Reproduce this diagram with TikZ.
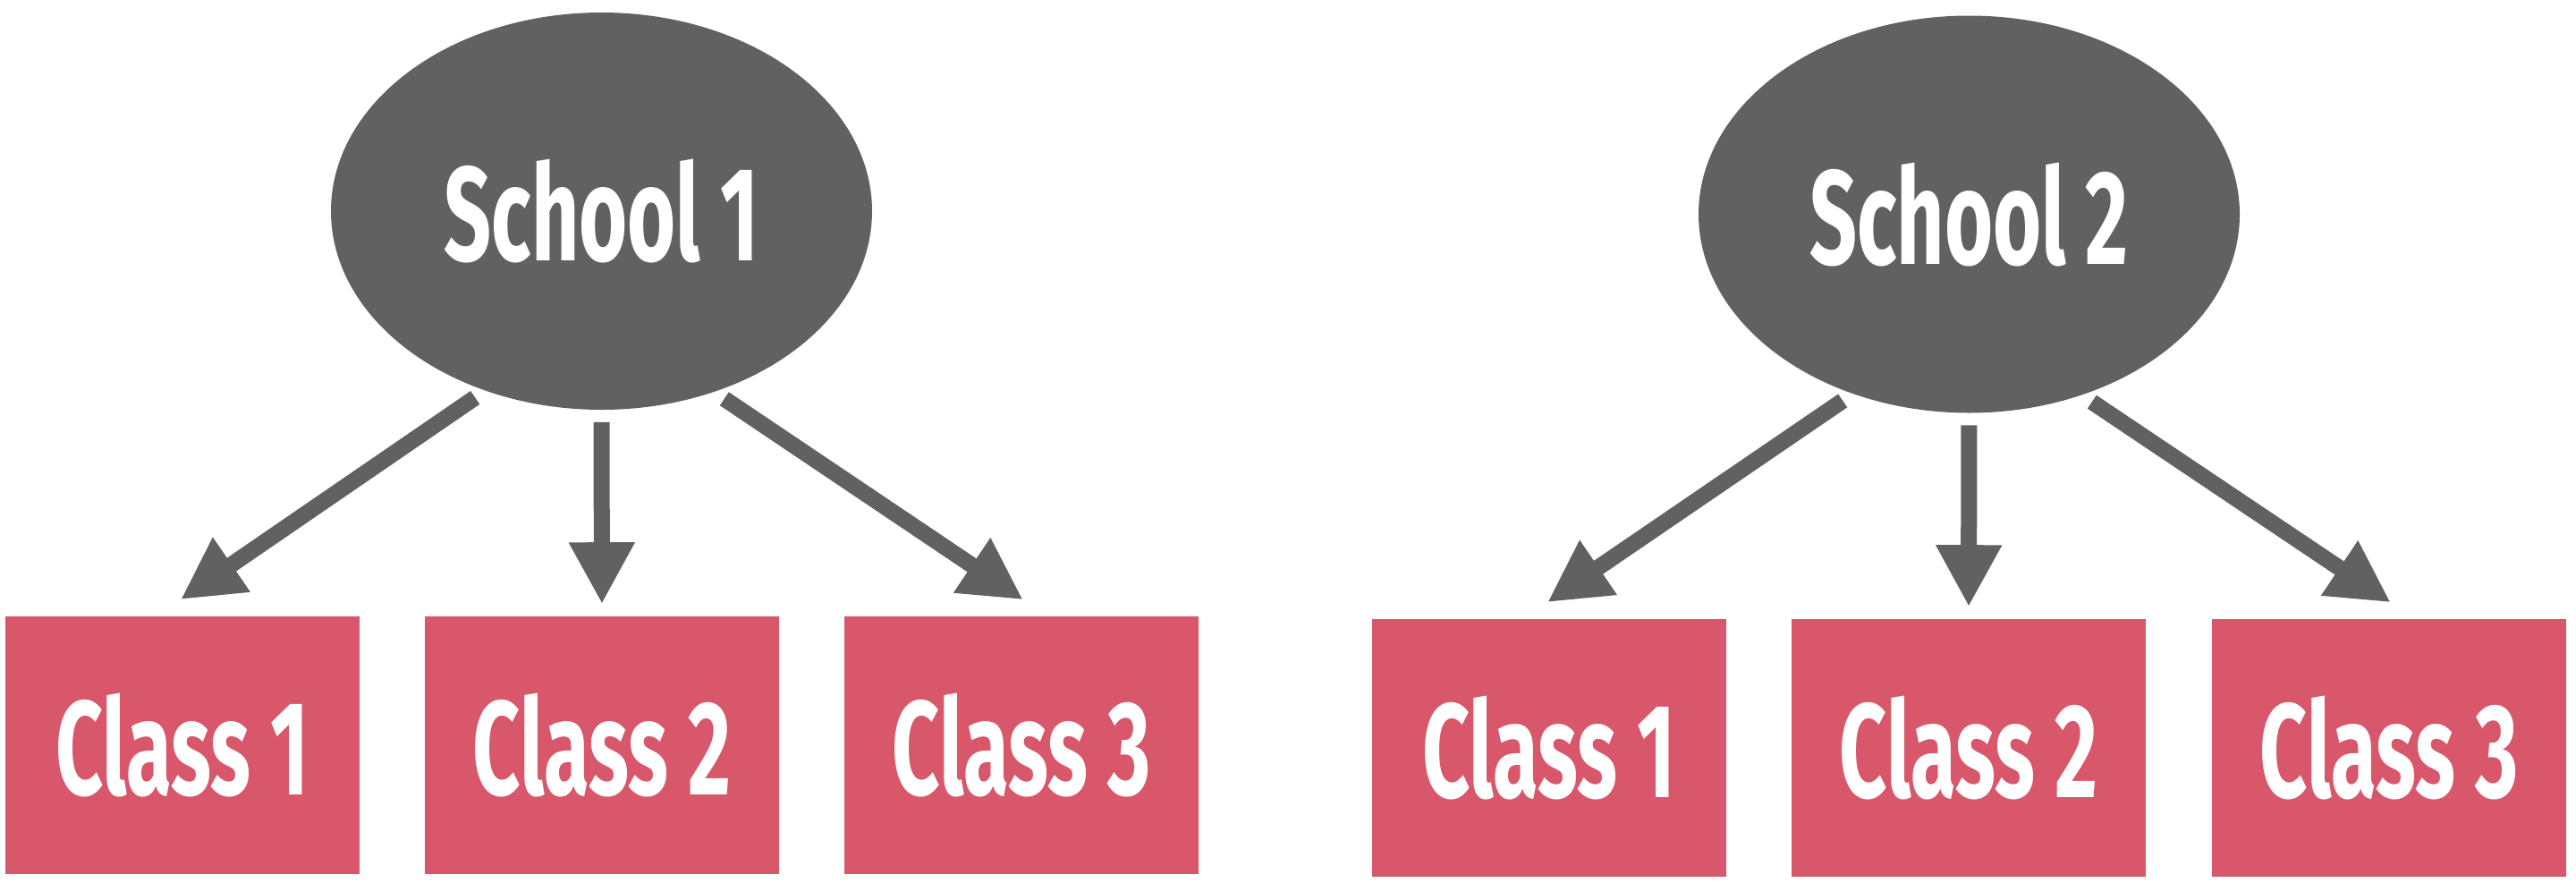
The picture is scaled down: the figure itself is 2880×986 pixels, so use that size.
\documentclass[tikz,border=0pt]{standalone}
\usepackage{fontspec}
\newfontfamily\lblfont{Fira Sans}[FakeStretch=0.62]
\usetikzlibrary{arrows.meta,shapes.geometric,calc}
\definecolor{schoolgray}{HTML}{616161}
\definecolor{classred}{HTML}{D8576B}
\begin{document}
\begin{tikzpicture}[x=0.25pt,y=-0.25pt,
  lbl/.style={text=white, font=\lblfont\bfseries\fontsize{37.4}{40}\selectfont},
  school/.style={ellipse, fill=schoolgray, minimum width=151.25pt, minimum height=111pt, inner sep=0pt, lbl},
  classbox/.style={rectangle, fill=classred, minimum width=99pt, minimum height=72pt, inner sep=0pt, lbl},
  link/.style={draw=schoolgray, line width=4.5pt, -{Triangle[length=17.25pt,width=17.25pt]}, shorten <=3.25pt, shorten >=3.25pt},
  slant/.style={shorten >=8pt}
]
\useasboundingbox (0,0) rectangle (2880,986);
% group 1
\node[school] (s1) at (672.5,236) {School 1};
\node[classbox] (a1) at (204,833) {Class 1};
\node[classbox] (a2) at (673,833) {Class 2};
\node[classbox] (a3) at (1142,833) {Class 3};
\draw[link, slant] (s1.237.5) -- ($(a1.north)+(-28.4,0)$);
\draw[link] (s1.south) -- (a2.north);
\draw[link, slant] (s1.302.5) -- ($(a3.north)+(28.4,0)$);
% group 2
\node[school] (s2) at (2201.5,239.5) {School 2};
\node[classbox] (b1) at (1732,836) {Class 1};
\node[classbox] (b2) at (2201,836) {Class 2};
\node[classbox] (b3) at (2671,836) {Class 3};
\draw[link, slant] (s2.237.5) -- ($(b1.north)+(-28.4,0)$);
\draw[link] (s2.south) -- (b2.north);
\draw[link, slant] (s2.302.5) -- ($(b3.north)+(28.4,0)$);
\end{tikzpicture}
\end{document}
